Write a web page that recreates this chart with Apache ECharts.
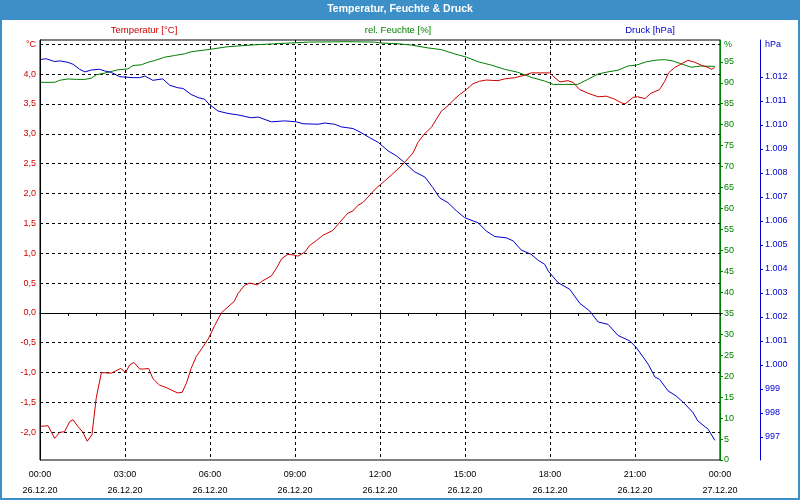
<!DOCTYPE html>
<html><head><meta charset="utf-8">
<script src="https://cdn.jsdelivr.net/npm/echarts@6/dist/echarts.min.js"></script>
<style>html,body{margin:0;padding:0;background:#fff}#c{width:800px;height:500px}</style>
</head><body><div id="c"></div>
<script>
const FONT = '"Liberation Sans", Arial, sans-serif';
const RED = '#cc0000', GREEN = '#008000', BLUE = '#0000cc', BAR = '#3d8fc7';

// x axis ticks (minutes since 26.12.20 00:00)
const timeTicks = [0, 180, 360, 540, 720, 900, 1080, 1260, 1440];
const timeTickLabels = ['00:00', '03:00', '06:00', '09:00', '12:00', '15:00', '18:00', '21:00', '00:00'];
const dateTickLabels = ['26.12.20', '26.12.20', '26.12.20', '26.12.20', '26.12.20', '26.12.20', '26.12.20', '26.12.20', '27.12.20'];
const tempTicks = [-2, -1.5, -1, -0.5, 0, 0.5, 1, 1.5, 2, 2.5, 3, 3.5, 4, 4.5];
const humTicks = [0, 5, 10, 15, 20, 25, 30, 35, 40, 45, 50, 55, 60, 65, 70, 75, 80, 85, 90, 95];
const pressTicks = [997, 998, 999, 1000, 1001, 1002, 1003, 1004, 1005, 1006, 1007, 1008, 1009, 1010, 1011, 1012];

// Temperatur [°C]
const tempTimes = [2,17,31,42,52,63,70,80,91,100,110,119,130,151,171,181,190,199,211,220,230,239,253,267,278,291,301,310,320,331,345,356,370,384,398,411,419,433,444,460,472,490,500,512,525,538,546,561,571,585,599,620,635,652,663,673,684,698,712,730,744,758,772,790,800,813,829,839,850,864,875,889,903,917,931,945,970,984,1005,1026,1040,1079,1086,1101,1118,1129,1143,1160,1182,1199,1217,1231,1239,1256,1266,1281,1294,1312,1323,1331,1344,1358,1372,1386,1400,1415,1422,1429];
const tempValues = [-1.90,-1.89,-2.10,-2.00,-1.99,-1.82,-1.79,-1.90,-2.00,-2.15,-2.04,-1.43,-1.00,-1.01,-0.93,-1.00,-0.87,-0.83,-0.94,-0.94,-0.93,-1.10,-1.21,-1.25,-1.29,-1.34,-1.33,-1.18,-0.93,-0.73,-0.57,-0.44,-0.21,0.00,0.10,0.19,0.32,0.46,0.50,0.47,0.54,0.62,0.74,0.91,0.98,0.97,0.95,1.02,1.13,1.21,1.30,1.38,1.52,1.67,1.71,1.80,1.85,1.97,2.09,2.21,2.31,2.41,2.52,2.68,2.85,2.99,3.11,3.24,3.38,3.47,3.56,3.66,3.74,3.84,3.88,3.90,3.89,3.92,3.94,3.98,4.02,4.02,3.97,3.87,3.89,3.86,3.74,3.68,3.62,3.63,3.58,3.52,3.50,3.61,3.62,3.59,3.68,3.74,3.88,4.02,4.11,4.17,4.23,4.20,4.15,4.11,4.08,4.11];

// rel. Feuchte [%]
const humTimes = [2,31,42,59,77,95,109,119,137,165,186,197,215,229,243,264,285,306,320,349,367,398,447,497,568,652,709,720,758,786,822,850,878,903,928,956,984,1012,1040,1069,1087,1111,1138,1160,1182,1203,1224,1245,1263,1284,1305,1323,1340,1358,1379,1400,1429];
const humValues = [90.1,90.1,90.6,90.9,90.8,90.8,91.1,91.9,92.3,93.1,93.3,94.1,94.3,94.9,95.3,96.1,96.5,96.9,97.4,97.8,98.1,98.6,99.0,99.3,99.7,99.8,99.7,99.5,99.3,99.0,98.3,97.9,96.9,96.1,95.0,94.2,93.2,92.5,91.3,90.4,89.6,89.6,89.6,90.8,92.1,92.6,93.0,94.0,94.2,95.0,95.4,95.5,95.2,94.5,93.7,94.0,93.9];

// Druck [hPa]
const pressTimes = [2,13,31,42,59,70,84,95,109,126,137,151,169,197,211,222,239,260,275,292,303,320,335,349,356,377,398,419,447,462,490,518,543,557,589,603,624,638,663,680,698,716,737,755,772,793,815,832,846,864,882,899,928,945,963,987,1002,1019,1040,1055,1069,1076,1097,1122,1143,1164,1182,1203,1224,1249,1263,1288,1302,1312,1330,1347,1365,1383,1393,1415,1429];
const pressValues = [1012.73,1012.76,1012.64,1012.67,1012.61,1012.53,1012.32,1012.21,1012.29,1012.32,1012.25,1012.19,1012.01,1011.97,1011.97,1012.04,1011.86,1011.92,1011.65,1011.55,1011.52,1011.27,1011.14,1011.07,1010.90,1010.58,1010.48,1010.42,1010.30,1010.33,1010.13,1010.17,1010.13,1010.05,1010.03,1010.08,1010.03,1009.92,1009.85,1009.68,1009.47,1009.28,1008.92,1008.71,1008.43,1008.05,1007.83,1007.39,1006.97,1006.76,1006.42,1006.14,1005.92,1005.58,1005.35,1005.30,1005.17,1004.79,1004.61,1004.36,1004.19,1003.92,1003.43,1003.15,1002.57,1002.25,1001.79,1001.69,1001.23,1001.00,1000.72,1000.03,999.50,999.40,998.92,998.71,998.39,998.01,997.67,997.32,996.86];

const zip = (t, v) => t.map((x, i) => [x, v[i]]);

const chart = echarts.init(document.getElementById('c'), null, {renderer: 'canvas'});
const lbl = (c) => ({color: c, fontSize: 9, fontFamily: FONT});

chart.setOption({
  animation: false,
  backgroundColor: '#fff',
  title: {
    text: 'Temperatur, Feuchte & Druck',
    left: 'center', top: 2.5, padding: 0,
    textStyle: {color: '#fff', fontWeight: 'bold', fontSize: 10.5, fontFamily: FONT, lineHeight: 14}
  },
  graphic: [
    {type: 'rect', z: 0, shape: {x: 0, y: 0, width: 800, height: 20}, style: {fill: BAR}},
    {type: 'rect', z: 0, shape: {x: 1, y: 1, width: 798, height: 498}, style: {fill: 'none', stroke: BAR, lineWidth: 2}},
    {type: 'text', z: 10, x: 144, y: 30, style: {text: 'Temperatur [°C]', fill: RED, font: '9.5px ' + FONT, align: 'center', verticalAlign: 'middle'}},
    {type: 'text', z: 10, x: 398, y: 30, style: {text: 'rel. Feuchte [%]', fill: GREEN, font: '9.5px ' + FONT, align: 'center', verticalAlign: 'middle'}},
    {type: 'text', z: 10, x: 650, y: 30, style: {text: 'Druck [hPa]', fill: BLUE, font: '9.5px ' + FONT, align: 'center', verticalAlign: 'middle'}},
    {type: 'text', z: 10, x: 724, y: 44.5, style: {text: '%', fill: GREEN, font: '9px ' + FONT, align: 'left', verticalAlign: 'middle'}},
    {type: 'text', z: 10, x: 765, y: 44.5, style: {text: 'hPa', fill: BLUE, font: '9px ' + FONT, align: 'left', verticalAlign: 'middle'}}
  ],
  grid: {left: 40, right: 80, top: 40, bottom: 40, show: true, backgroundColor: '#fff', borderColor: '#000', borderWidth: 1},
  xAxis: {
    type: 'value', min: 0, max: 1440, interval: 180,
    axisLine: {lineStyle: {color: '#000', width: 1}},
    axisTick: {show: true, length: 3, lineStyle: {color: '#000'}},
    minorTick: {show: true, splitNumber: 3, length: 3, lineStyle: {color: '#000'}},
    splitLine: {show: true, lineStyle: {color: '#000', type: [3, 3], width: 1}},
    axisLabel: {
      color: '#000', fontSize: 9, fontFamily: FONT, lineHeight: 16, margin: 7,
      formatter: (v) => { const i = timeTicks.indexOf(v); return i < 0 ? '' : timeTickLabels[i] + '\n' + dateTickLabels[i]; }
    }
  },
  yAxis: [
    {
      type: 'value', position: 'left', min: -2.464, max: 4.571,
      axisLine: {show: true, lineStyle: {color: '#000', width: 1}},
      axisTick: {show: false, customValues: tempTicks},
      axisLabel: Object.assign(lbl(RED), {customValues: tempTicks, margin: 4,
        formatter: (v) => Math.abs(v - 4.5) < 1e-9 ? '°C' : v.toFixed(1).replace('.', ',')}),
      splitLine: {show: true, lineStyle: {color: '#000', type: [3, 3], width: 1}}
    },
    {
      type: 'value', position: 'right', offset: 0, min: 0, max: 100.2,
      axisLine: {show: true, lineStyle: {color: GREEN, width: 1}},
      axisTick: {show: true, length: 3, customValues: humTicks, lineStyle: {color: GREEN}},
      axisLabel: Object.assign(lbl(GREEN), {customValues: humTicks, margin: 4}),
      splitLine: {show: false}
    },
    {
      type: 'value', position: 'right', offset: 40, min: 996.04, max: 1013.54,
      axisLine: {show: true, lineStyle: {color: BLUE, width: 1}},
      axisTick: {show: true, length: 3, customValues: pressTicks, lineStyle: {color: BLUE}},
      axisLabel: Object.assign(lbl(BLUE), {customValues: pressTicks, margin: 5,
        formatter: (v) => v >= 1000 ? '1.' + String(Math.round(v - 1000)).padStart(3, '0') : String(v)}),
      splitLine: {show: false}
    }
  ],
  series: [
    {name: 'rel. Feuchte [%]', type: 'line', yAxisIndex: 1, data: zip(humTimes, humValues), showSymbol: false, lineStyle: {color: GREEN, width: 1}, itemStyle: {color: GREEN}},
    {name: 'Druck [hPa]', type: 'line', yAxisIndex: 2, data: zip(pressTimes, pressValues), showSymbol: false, lineStyle: {color: BLUE, width: 1}, itemStyle: {color: BLUE}},
    {name: 'Temperatur [°C]', type: 'line', yAxisIndex: 0, data: zip(tempTimes, tempValues), showSymbol: false, lineStyle: {color: RED, width: 1}, itemStyle: {color: RED}}
  ]
});
</script></body></html>
